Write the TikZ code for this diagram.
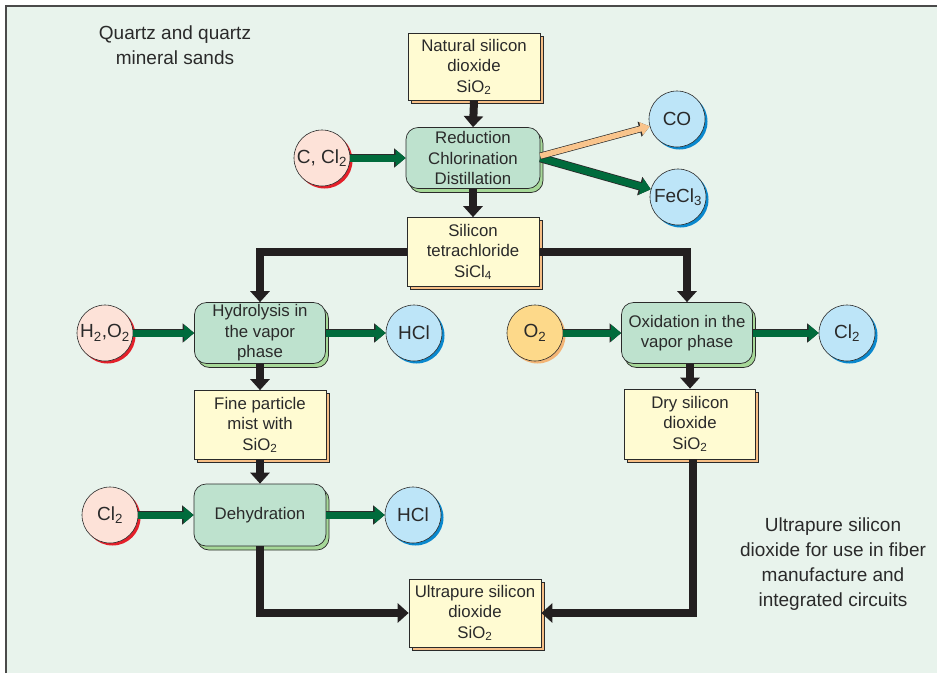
\documentclass[tikz,border=0pt]{standalone}
\usepackage{fontspec}
\setmainfont{Liberation Sans}
\usetikzlibrary{arrows.meta,shadows,calc}
\definecolor{panel}{HTML}{E8F3EC}
\definecolor{bordergray}{HTML}{4A4A4A}
\definecolor{boxline}{HTML}{2A2A2A}
\definecolor{txt}{HTML}{2A2A2A}
\definecolor{yfill}{HTML}{FFFBD2}
\definecolor{yshadow}{HTML}{F6BE86}
\definecolor{gfill}{HTML}{BEE2CE}
\definecolor{gshadow}{HTML}{A6D898}
\definecolor{pinkfill}{HTML}{FDE2D8}
\definecolor{redshadow}{HTML}{E4202A}
\definecolor{bluefill}{HTML}{BDE5F8}
\definecolor{blueshadow}{HTML}{0A88CE}
\definecolor{ofill}{HTML}{FDD98A}
\definecolor{oshadow}{HTML}{F3B576}
\definecolor{agreen}{HTML}{006B3C}
\definecolor{aorange}{HTML}{F9C48C}
\definecolor{blk}{HTML}{231F20}
\newcommand\bxfont{\fontsize{16.8}{20.5}\selectfont}
\newcommand\crfont{\fontsize{19}{21}\selectfont}
\newcommand\sdfont{\fontsize{19}{25}\selectfont}
\begin{document}
\begin{tikzpicture}[x=1pt,y=-1pt,
  ybox/.style={draw=boxline, line width=0.7pt, fill=yfill, minimum width=132pt, minimum height=68pt,
    align=center, inner sep=0pt, font=\bxfont, text=txt,
    copy shadow={fill=yshadow, draw=boxline, line width=0.7pt, shadow xshift=3pt, shadow yshift=-3pt}},
  gbox/.style={draw=boxline, line width=0.7pt, fill=gfill, rounded corners=12pt, minimum width=132pt, minimum height=61pt,
    align=center, inner sep=0pt, font=\bxfont, text=txt,
    copy shadow={fill=gshadow, draw=boxline, line width=0.7pt, shadow xshift=3pt, shadow yshift=-4pt}},
  circ/.style={circle, draw=boxline, line width=0.6pt, minimum size=56pt, inner sep=0pt, font=\crfont, text=txt},
  rcirc/.style={circ, fill=pinkfill, copy shadow={fill=redshadow, draw=none, shadow xshift=2.5pt, shadow yshift=-2.5pt}},
  bcirc/.style={circ, fill=bluefill, copy shadow={fill=blueshadow, draw=none, shadow xshift=2.5pt, shadow yshift=-2.5pt}},
  ocirc/.style={circ, fill=ofill, copy shadow={fill=oshadow, draw=none, shadow xshift=2.5pt, shadow yshift=-2.5pt}},
  garrow/.style={line width=7pt, draw=agreen, -{Triangle[length=10pt,width=16pt]},
    preaction={draw=boxline, line width=8.6pt, -{Triangle[length=11.5pt,width=18.5pt]}}},
  oarrow/.style={line width=5.5pt, draw=aorange, -{Triangle[length=9pt,width=13pt]},
    preaction={draw=boxline, line width=6.8pt, -{Triangle[length=10.5pt,width=15pt]}}},
  barrow/.style={line width=8pt, draw=blk, line join=miter, -{Triangle[length=11pt,width=19pt]}},
  sidetext/.style={align=center, font=\sdfont, text=txt, inner sep=0pt}
]
\useasboundingbox (0,0) rectangle (937,673);
\fill[panel] (6,6) rectangle (937,673);
\draw[bordergray, line width=2pt] (6,673) -- (6,6) -- (937,6);

\node[sidetext] (title) at (175,45) {Quartz and quartz\\mineral sands};
\node[sidetext] (side) at (833,564) {Ultrapure silicon\\dioxide for use in fiber\\manufacture and\\integrated circuits};

% boxes
\node[ybox, minimum height=67pt] (nat) at (474,67) {Natural silicon\\dioxide\\SiO\textsubscript{2}};
\node[gbox, minimum width=134pt] (red) at (473,158) {Reduction\\Chlorination\\Distillation};
\node[ybox, minimum height=69pt] (sicl) at (473,252) {Silicon\\tetrachloride\\SiCl\textsubscript{4}};
\node[gbox, minimum width=131pt] (hyd) at (260,333) {Hydrolysis in\\the vapor\\phase};
\node[ybox, minimum height=69pt] (fine) at (260,425) {Fine particle\\mist with\\SiO\textsubscript{2}};
\node[gbox, minimum height=62pt] (dehy) at (260,515) {Dehydration};
\node[gbox, minimum width=131pt] (oxi) at (687,333) {Oxidation in the\\vapor phase};
\node[ybox, minimum width=131pt, minimum height=70pt] (dry) at (690,424) {Dry silicon\\dioxide\\SiO\textsubscript{2}};
\node[ybox] (ultra) at (475,613) {Ultrapure silicon\\dioxide\\SiO\textsubscript{2}};

% circles
\node[rcirc] (ccl) at (322,158) {C, Cl\textsubscript{2}};
\node[bcirc] (co) at (677,119) {CO};
\node[bcirc] (fecl) at (678,197) {FeCl\textsubscript{3}};
\node[rcirc] (hho) at (105,333) {H\textsubscript{2},O\textsubscript{2}};
\node[bcirc] (hcla) at (414,333) {HCl};
\node[rcirc] (cla) at (110,515) {Cl\textsubscript{2}};
\node[bcirc] (hclb) at (413,515) {HCl};
\node[ocirc] (oo) at (535,333) {O\textsubscript{2}};
\node[bcirc] (clb) at (847,333) {Cl\textsubscript{2}};

% green / orange arrows
\draw[garrow] (ccl.east) -- (red.west);
\draw[garrow] (red.east) -- (fecl);
\draw[oarrow] ($(red.east)+(0,-2)$) -- (co);
\draw[garrow] (hho.east) -- (hyd.west);
\draw[garrow] (hyd.east) -- (hcla.west);
\draw[garrow] (cla.east) -- (dehy.west);
\draw[garrow] (dehy.east) -- (hclb.west);
\draw[garrow] (oo.east) -- (oxi.west);
\draw[garrow] (oxi.east) -- (clb.west);

% black arrows
\draw[barrow] (nat.south) -- (red.north);
\draw[barrow] (red.south) -- (sicl.north);
\draw[barrow] (sicl.west) -| (hyd.north);
\draw[barrow] (sicl.east) -| (oxi.north);
\draw[barrow] (hyd.south) -- (fine.north);
\draw[barrow] (fine.south) -- (dehy.north);
\draw[barrow] (oxi.south -| dry.north) -- (dry.north);
\draw[barrow] (dehy.south) |- (ultra.west);
\draw[barrow] ($(dry.south)+(3,0)$) |- (ultra.east);
\end{tikzpicture}
\end{document}
